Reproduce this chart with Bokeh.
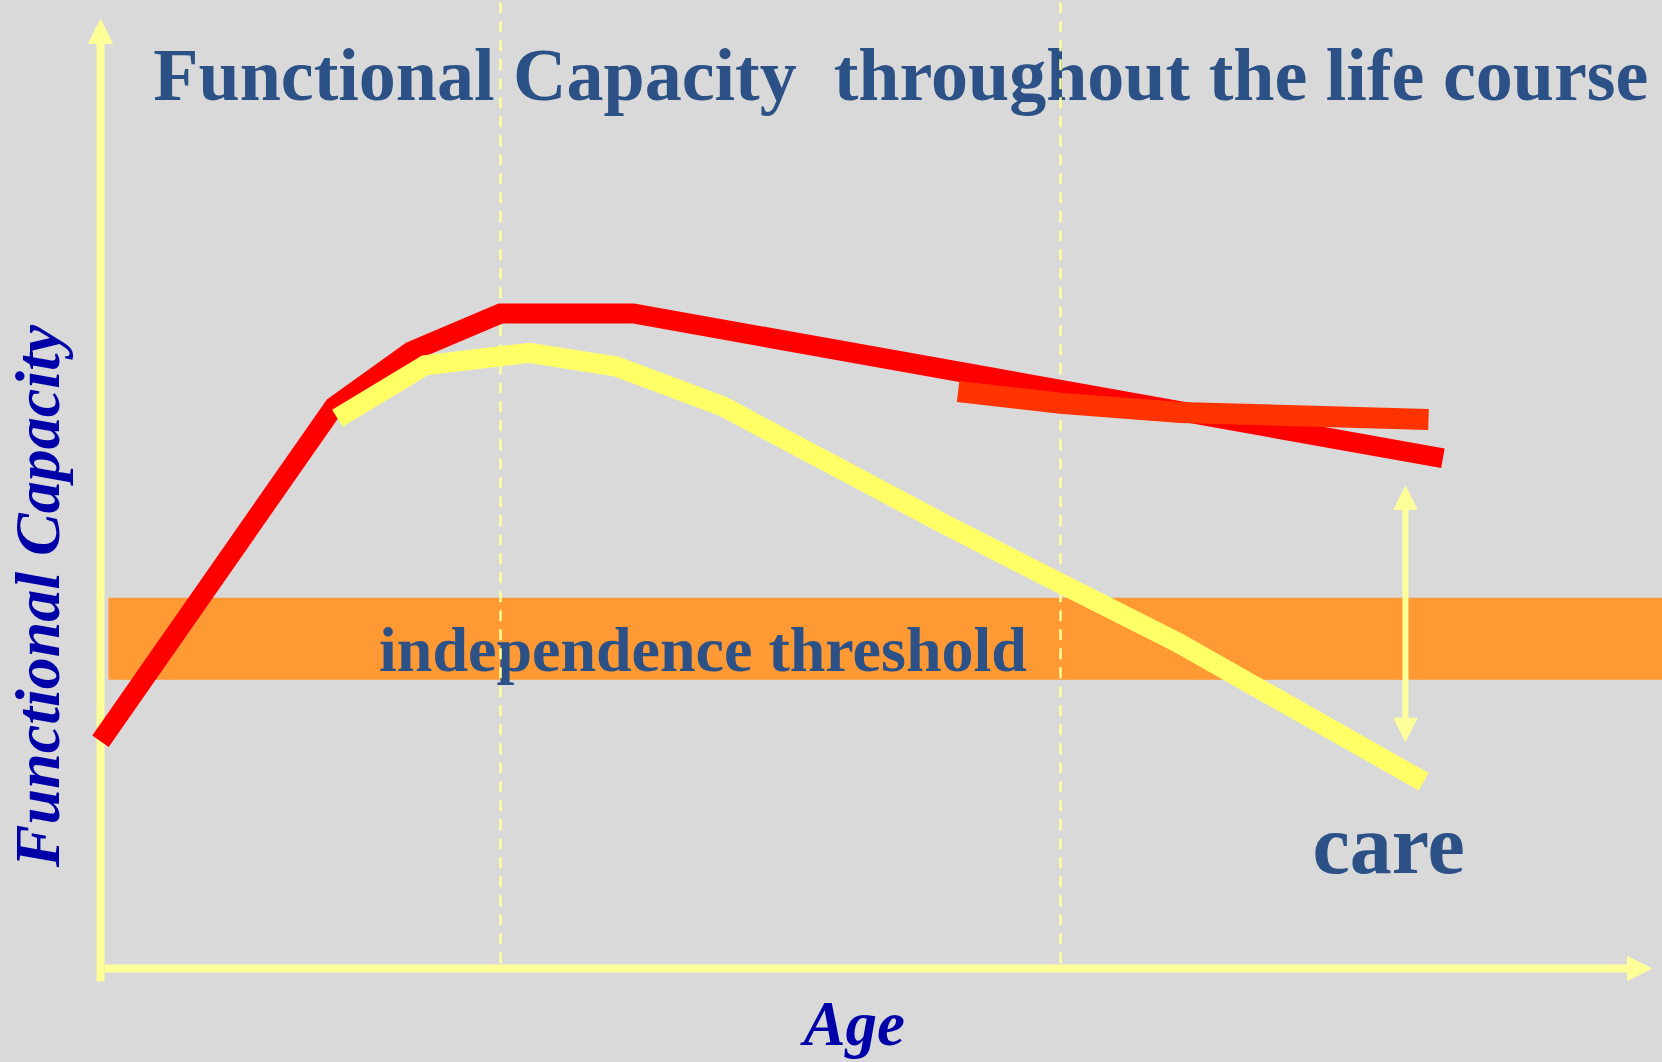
from bokeh.plotting import figure
from bokeh.models import Range1d, Arrow, NormalHead
from bokeh.core.properties import value
from bokeh.embed import file_html
from bokeh.resources import INLINE
import math

# ---- data (age in years, functional capacity in % of peak) ----
red_age = [0.0, 14.6, 19.4, 25.0, 33.3, 83.9]
red_cap = [34.7, 85.8, 94.2, 100.0, 100.0, 77.9]

yellow_age = [14.8, 20.3, 26.8, 32.25, 38.9, 52.7, 60.0, 67.3, 82.7]
yellow_cap = [84.0, 92.1, 94.0, 91.9, 85.8, 67.9, 58.8, 49.8, 28.5]

orange_age = [53.6, 60.0, 67.5, 83.0]
orange_cap = [88.1, 86.3, 84.9, 83.8]

threshold_low = 44.1
threshold_high = 56.6
threshold_age_start = 0.5
threshold_age_end = 100.0

stage_ages = [25.0, 60.0]
stage_cap_bottom = 0.8
stage_cap_top = 148.0

care_age = 81.56
care_cap = [34.7, 73.6]

axis_age_end = 96.94
axis_cap_start = -2.0
axis_cap_end = 144.9

title_text = "Functional Capacity\u00a0 throughout the life course"
title_pos = (3.3, 136.34)
threshold_label = "independence threshold"
threshold_label_pos = (17.41, 48.70)
care_label = "care"
care_label_pos = (75.75, 18.93)
x_label = "Age"
x_label_pos = (43.94, -8.40)
y_label = "Functional Capacity"
y_label_pos = (-3.95, 56.87)

# ---- colours ----
BG = "#D9D9D9"
AXIS = "#FFFF99"
BAND = "#FF9933"
RED = "#FF0000"
ORANGE = "#FF3300"
YELLOW = "#FFFF66"
TXT = "#2B5186"
LBL = "#0000A8"
SERIF = value("Liberation Serif")

p = figure(width=1662, height=1062,
           x_range=Range1d(-6.25, 97.625), y_range=Range1d(-14.351, 147.786),
           output_backend="svg", toolbar_location=None,
           x_axis_location=None, y_axis_location=None,
           min_border=0, background_fill_color=BG, border_fill_color=BG,
           outline_line_color=None)
p.xgrid.visible = False
p.ygrid.visible = False

# independence threshold band
p.quad(left=[threshold_age_start], right=[threshold_age_end],
       bottom=[threshold_low], top=[threshold_high],
       fill_color=BAND, line_color=None)

p.text(x=[threshold_label_pos[0]], y=[threshold_label_pos[1]], text=[threshold_label],
       text_font=SERIF, text_font_style="bold", text_font_size="64px",
       text_color=TXT, text_align="left", text_baseline="alphabetic")

p.text(x=[title_pos[0]], y=[title_pos[1]], text=[title_text],
       text_font=SERIF, text_font_style="bold", text_font_size="74px",
       text_color=TXT, text_align="left", text_baseline="alphabetic")

p.text(x=[care_label_pos[0]], y=[care_label_pos[1]], text=[care_label],
       text_font=SERIF, text_font_style="bold", text_font_size="84px",
       text_color=TXT, text_align="left", text_baseline="alphabetic")

p.text(x=[x_label_pos[0]], y=[x_label_pos[1]], text=[x_label],
       text_font=SERIF, text_font_style="bold italic", text_font_size="63px",
       text_color=LBL, text_align="left", text_baseline="alphabetic")

p.text(x=[y_label_pos[0]], y=[y_label_pos[1]], text=[y_label], angle=[math.pi / 2],
       text_font=SERIF, text_font_style="bold italic", text_font_size="64px",
       text_color=LBL, text_align="center", text_baseline="alphabetic")

# life-stage dividers
p.segment(x0=stage_ages, x1=stage_ages,
          y0=[stage_cap_bottom] * len(stage_ages), y1=[stage_cap_top] * len(stage_ages),
          line_color=AXIS, line_width=2.5, line_dash="11 8")

# capacity curves
p.line(red_age, red_cap, line_color=RED, line_width=20, line_join="miter", line_cap="butt")
p.line(yellow_age, yellow_cap, line_color=YELLOW, line_width=20, line_join="miter", line_cap="butt")
p.line(orange_age, orange_cap, line_color=ORANGE, line_width=21, line_join="miter", line_cap="butt")

# axes drawn as arrows
p.add_layout(Arrow(end=NormalHead(size=24, fill_color=AXIS, line_color=AXIS, line_width=1),
                   x_start=0, y_start=axis_cap_start, x_end=0, y_end=axis_cap_end,
                   line_color=AXIS, line_width=8, level="underlay"))
p.add_layout(Arrow(end=NormalHead(size=24, fill_color=AXIS, line_color=AXIS, line_width=1),
                   x_start=0.25, y_start=0, x_end=axis_age_end, y_end=0,
                   line_color=AXIS, line_width=8, level="underlay"))

# care gap double arrow
p.add_layout(Arrow(start=NormalHead(size=23, fill_color=AXIS, line_color=AXIS, line_width=1),
                   end=NormalHead(size=23, fill_color=AXIS, line_color=AXIS, line_width=1),
                   x_start=care_age, y_start=care_cap[0], x_end=care_age, y_end=care_cap[1],
                   line_color=AXIS, line_width=6))

html = file_html(p, INLINE)
html = html.replace("<head>", "<head><style>html,body{background:#D9D9D9;}</style>", 1)
open("out.html", "w").write(html)
